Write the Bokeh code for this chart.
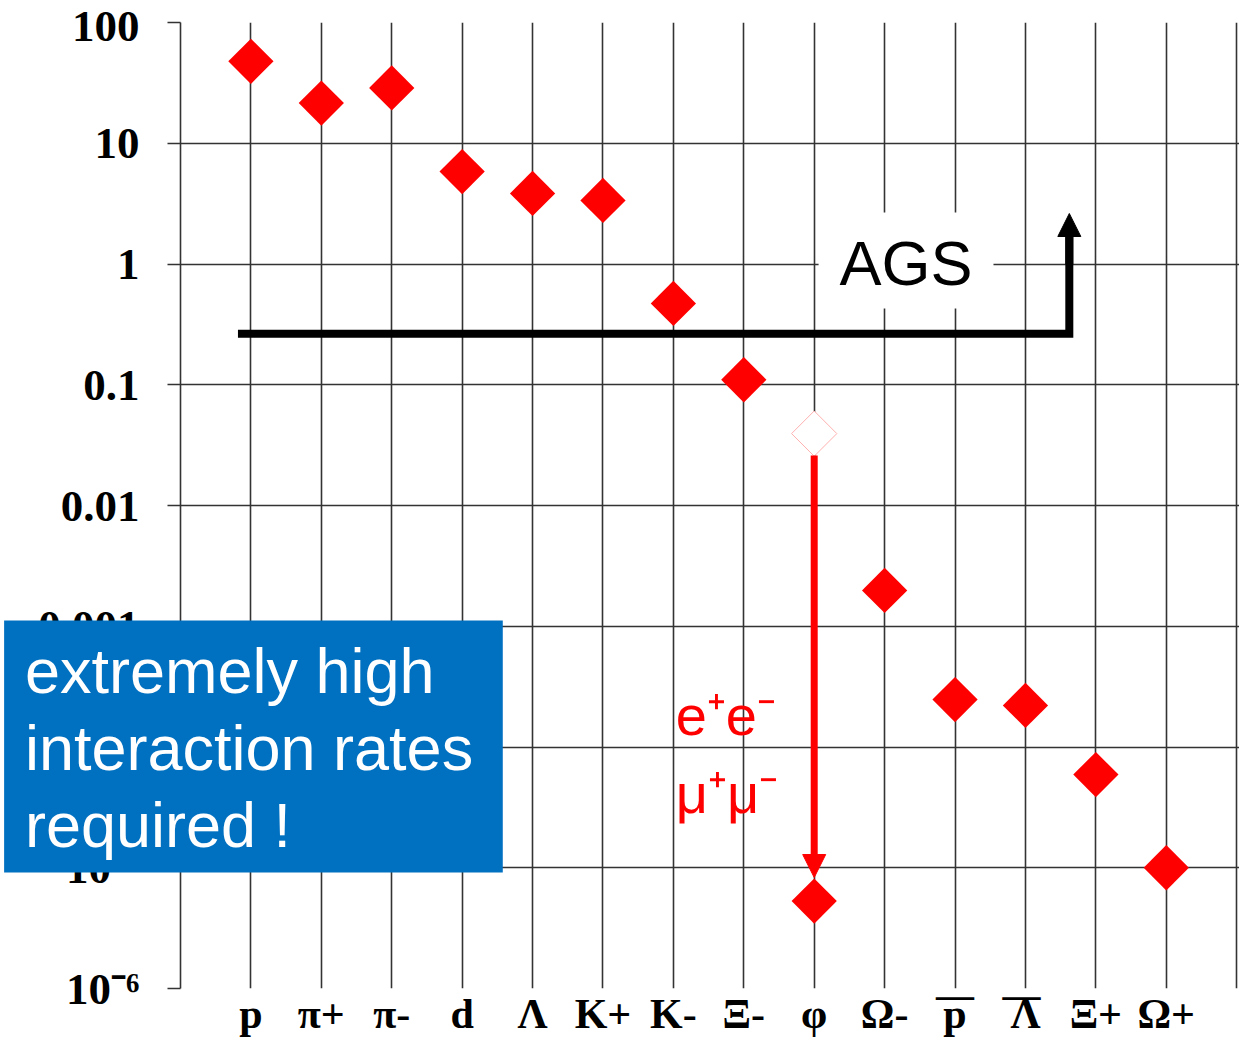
import math
from bokeh.plotting import figure
from bokeh.models import (Range1d, FixedTicker, BoxAnnotation, Label, Arrow,
                          NormalHead, ColumnDataSource)
from bokeh.core.properties import value
from bokeh.embed import file_html
from bokeh.resources import INLINE

# ---- data ----
categories = ["p", "π+", "π-", "d", "Λ", "K+", "K-", "Ξ-", "φ", "Ω-", "p", "Λ", "Ξ+", "Ω+"]
antiparticles = ["p", "Λ"]          # shown with an overline (categories 11, 12)
yields = [47.7, 21.5, 28.7, 5.83, 3.84, 3.36, 0.471, 0.110, 5.3e-6,
          1.98e-3, 2.47e-4, 2.21e-4, 5.91e-5, 1.0e-5]
phi_category = "φ"
phi_hadronic_yield = 0.0394
y_ticks = [1e-6, 1e-5, 1e-4, 1e-3, 1e-2, 1e-1, 1.0, 10.0, 100.0]
y_tick_labels = ["10⁻⁶", "10⁻⁵", "10⁻⁴", "0.001", "0.01", "0.1", "1", "10", "100"]
ags_level = 0.265
ags_top = 2.62
callout_lines = ["extremely high", "interaction rates", "required !"]

xpos = list(range(1, len(categories) + 1))
phi_x = xpos[categories.index(phi_category)]
anti_x = [11, 12]

GRID = "#333333"
SERIF = "Liberation Serif"
SANS = "Liberation Sans"

p = figure(width=1239, height=1049, y_axis_type="log",
           x_range=Range1d(0, 15.04), y_range=Range1d(1e-6, 100),
           output_backend="svg", toolbar_location=None,
           min_border_left=180, min_border_right=0,
           min_border_top=22, min_border_bottom=61)
p.outline_line_color = None
p.background_fill_color = "white"
p.border_fill_color = "white"

# grids
p.xgrid.ticker = FixedTicker(ticks=list(range(1, 16)))
p.ygrid.ticker = FixedTicker(ticks=y_ticks)
for g in (p.xgrid, p.ygrid):
    g.grid_line_color = GRID
    g.grid_line_width = 1.6
    g.grid_line_alpha = 1.0

# x axis (category labels)
xa = p.xaxis[0]
xa.ticker = FixedTicker(ticks=xpos)
xa.major_label_overrides = {x: c for x, c in zip(xpos, categories)}
xa.axis_line_color = None
xa.major_tick_line_color = None
xa.minor_tick_line_color = None
xa.major_label_text_font = SERIF
xa.major_label_text_font_style = "bold"
xa.major_label_text_font_size = "42px"
xa.major_label_text_color = "black"
xa.major_label_standoff = -4

# y axis
ya = p.yaxis[0]
ya.ticker = FixedTicker(ticks=y_ticks)
ya.major_label_overrides = {t: l for t, l in zip(y_ticks, y_tick_labels)}
ya.axis_line_color = GRID
ya.axis_line_width = 1.6
ya.major_tick_line_color = GRID
ya.major_tick_line_width = 1.6
ya.major_tick_out = 13
ya.major_tick_in = 0
ya.minor_tick_line_color = None
ya.major_label_text_font = SERIF
ya.major_label_text_font_style = "bold"
ya.major_label_text_font_size = "45px"
ya.major_label_text_color = "black"
ya.major_label_standoff = 28

# AGS threshold line with arrow
p.line(x=[0.816, 12.623, 12.623], y=[ags_level, ags_level, 1.69],
       line_color="black", line_width=8, line_join="miter")
p.add_layout(Arrow(x_start=12.623, y_start=1.0, x_end=12.623, y_end=ags_top,
                   line_color="black", line_width=8,
                   end=NormalHead(size=23, fill_color="black", line_color="black")))

# AGS label with white background
p.add_layout(BoxAnnotation(left=9.062, right=11.546, bottom=0.428, top=2.67,
                           fill_color="white", fill_alpha=1.0, line_color=None))
p.add_layout(Label(x=10.304, y=1.029, text="AGS", text_font=SANS,
                   text_font_size="63px", text_color="black",
                   text_align="center", text_baseline="alphabetic"))

# data markers
src = ColumnDataSource(dict(x=xpos, y=yields))
p.scatter("x", "y", source=src, marker="square", size=32, angle=math.pi / 4,
          fill_color="#ff0000", line_color=None)
p.scatter(x=[phi_x], y=[phi_hadronic_yield], marker="square", size=32,
          angle=math.pi / 4, fill_color="white", line_color="#ffb0b0", line_width=1)

# red arrow: phi -> dileptons
p.add_layout(Arrow(x_start=phi_x, y_start=0.026, x_end=phi_x, y_end=8.3e-6,
                   line_color="#ff0000", line_width=7,
                   end=NormalHead(size=23, fill_color="#ff0000", line_color="#ff0000")))
p.add_layout(Label(x=7.032, y=1.824e-4, text="e⁺e⁻", text_font=SANS,
                   text_font_size="56px", text_color="#ff0000",
                   text_baseline="alphabetic"))
p.add_layout(Label(x=7.032, y=4.12e-5, text="μ⁺μ⁻", text_font=SANS,
                   text_font_size="56px", text_color="#ff0000",
                   text_baseline="alphabetic"))

# overlines for antiparticle labels (drawn at overlay level, below the frame)
p.text(x=anti_x, y=[1e-6, 1e-6], text=["—", "—"], x_offset=[0, -4], y_offset=6,
       text_font=value(SERIF), text_font_size="38px", text_font_style="bold",
       text_color="black", text_align="center", text_baseline="middle",
       level="overlay")

# blue call-out box (overlay level so it may cover the axis area)
p.quad(left=[-2.505], right=[4.577], bottom=[9.14e-6], top=[1.116e-3],
       fill_color="#0070C0", line_color=None, level="overlay")
p.text(x=[1, 1, 1], y=[4.30e-4, 9.9e-5, 2.28e-5], text=callout_lines,
       x_offset=-226, text_font=value(SANS), text_font_size="63px",
       text_color="white", text_baseline="alphabetic", level="overlay")

open("out.html", "w").write(file_html(p, INLINE))
